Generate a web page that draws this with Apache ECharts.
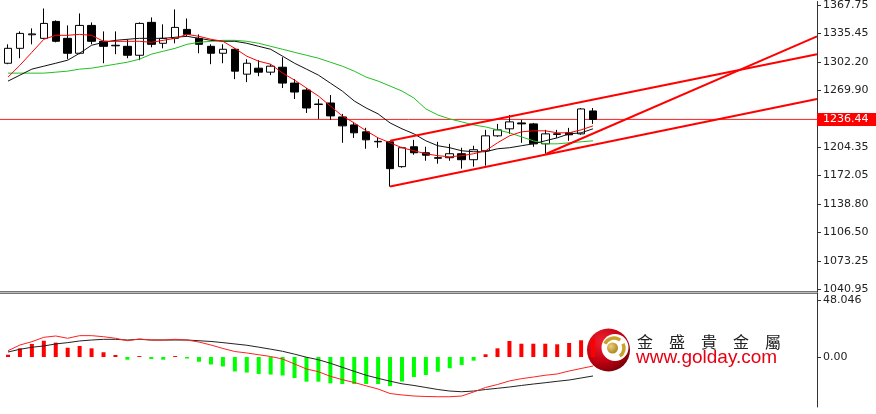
<!DOCTYPE html>
<html>
<head>
<meta charset="utf-8">
<script src="https://cdn.jsdelivr.net/npm/echarts@6.0.0/dist/echarts.min.js"></script>
<style>html,body{margin:0;padding:0;background:#fff;}#main{width:876px;height:414px;}</style>
</head>
<body>
<div id="main"></div>
<script>
// ---- price candles ----
const openP  = [1301.2,1318.4,1334.0,1329.9,1349.4,1329.9,1312.7,1344.8,1326.5,1321.3,1320.7,1310.4,1348.3,1324.2,1329.9,1340.2,1329.9,1320.7,1312.7,1317.3,1288.6,1295.5,1290.9,1296.6,1278.3,1270.3,1253.6,1255.4,1239.3,1230.1,1222.1,1210.6,1210.6,1182.0,1204.9,1198.0,1192.3,1192.3,1196.9,1190.0,1200.3,1217.5,1225.6,1232.4,1231.3,1208.3,1219.8,1221.0,1219.8,1246.2];
const closeP = [1318.4,1335.6,1335.0,1347.1,1326.5,1312.7,1344.8,1326.5,1320.7,1321.9,1310.4,1347.1,1323.0,1329.9,1342.5,1334.5,1323.0,1312.7,1317.3,1292.1,1301.2,1290.9,1297.8,1278.3,1268.0,1249.6,1254.2,1240.5,1229.0,1221.0,1212.9,1211.2,1179.7,1203.8,1198.0,1195.2,1191.7,1196.9,1190.0,1201.5,1217.5,1224.4,1233.6,1231.3,1208.3,1219.8,1219.2,1218.7,1248.5,1236.44];
const lowP   = [1300.1,1307.0,1323.0,1329.5,1325.3,1305.8,1311.6,1323.0,1301.2,1311.6,1307.0,1304.7,1319.6,1318.4,1324.2,1332.2,1312.7,1300.1,1301.2,1282.9,1279.4,1286.3,1287.5,1272.6,1260.0,1243.9,1237.0,1235.9,1209.5,1215.2,1202.6,1203.8,1159.0,1180.8,1195.7,1188.8,1185.4,1188.8,1179.7,1182.0,1183.1,1216.4,1219.8,1209.5,1204.9,1196.9,1215.2,1211.8,1218.7,1231.3];
const highP  = [1323.0,1337.9,1341.4,1364.3,1350.6,1344.8,1358.6,1348.3,1337.9,1337.9,1328.8,1348.3,1354.0,1346.0,1363.2,1352.8,1334.5,1323.0,1323.0,1318.4,1305.8,1304.7,1300.1,1308.1,1282.9,1272.6,1260.0,1264.5,1242.8,1233.6,1226.7,1215.2,1211.0,1204.9,1212.9,1204.9,1210.6,1208.3,1203.8,1206.1,1224.4,1231.3,1241.6,1235.9,1232.4,1224.4,1224.4,1226.7,1249.6,1249.6];

// ---- moving averages ----
const maRed   = [1285.2,1298.9,1313.8,1328.8,1333.4,1333.4,1334.5,1333.4,1326.5,1326.5,1326.5,1326.5,1325.3,1327.6,1329.9,1334.5,1332.2,1328.8,1326.5,1318.4,1309.3,1303.5,1300.1,1289.8,1281.8,1272.6,1263.4,1251.9,1240.5,1232.4,1223.3,1215.2,1209.5,1203.8,1200.3,1196.9,1194.6,1193.4,1194.6,1196.9,1200.3,1209.5,1217.5,1222.1,1223.3,1223.3,1221.0,1221.0,1224.4,1229.0];
const maBlack = [1280.6,1287.5,1294.4,1297.8,1301.2,1304.7,1312.7,1321.9,1325.3,1327.6,1328.8,1329.9,1329.9,1329.9,1331.1,1332.2,1329.9,1327.6,1326.5,1326.5,1324.2,1320.7,1317.3,1309.3,1301.2,1294.4,1287.5,1278.3,1269.1,1257.7,1249.6,1242.8,1232.4,1225.6,1219.8,1211.8,1206.1,1203.8,1200.3,1199.2,1199.2,1202.6,1203.8,1206.1,1208.3,1211.8,1215.2,1219.8,1221.0,1225.6];
const maGreen = [1289.8,1289.8,1289.8,1289.8,1290.9,1292.1,1294.4,1295.5,1297.8,1300.1,1302.4,1305.8,1311.6,1315.0,1318.4,1323.0,1325.3,1326.5,1327.6,1327.6,1326.5,1324.2,1320.7,1317.3,1313.8,1310.4,1307.0,1302.4,1297.8,1292.1,1285.2,1280.6,1274.9,1269.1,1261.1,1248.5,1241.6,1237.0,1233.6,1230.1,1227.8,1224.4,1221.0,1216.4,1211.8,1208.3,1208.3,1209.5,1210.6,1211.8];

// ---- trend lines: [barIndex, price] endpoints ----
const trendUpper = [[32, 1211.8], [67.76, 1311.6]];
const trendLower = [[32, 1159.0], [67.76, 1260.0]];
const trendSteep = [[45.1, 1196.9], [67.76, 1332.2]];
const curPrice = 1236.44;

// ---- MACD panel ----
const macdHist  = [1.9,7.3,11.0,13.7,12.1,7.8,9.3,7.3,4.0,1.7,-2.3,0.8,-1.7,-2.3,0.8,-1.3,-4.0,-6.3,-8.0,-12.2,-13.1,-14.3,-14.8,-15.6,-17.7,-20.8,-20.8,-22.2,-22.8,-22.8,-22.8,-22.8,-24.5,-20.7,-16.9,-15.2,-12.4,-9.5,-6.7,-3.1,2.3,7.3,13.5,11.2,11.2,11.2,10.7,11.8,14.1,15.2];
const macdRed   = [5.3,10.1,12.9,16.6,17.7,15.8,18.0,18.0,17.1,15.8,13.7,15.2,14.3,14.3,14.9,14.3,12.6,10.1,7.2,4.6,3.4,1.9,0.4,-1.7,-5.9,-10.1,-12.4,-16.3,-19.1,-21.5,-24.3,-27.0,-30.8,-32.0,-32.9,-33.3,-33.5,-33.5,-32.9,-29.5,-25.7,-23.2,-20.2,-18.3,-16.9,-15.4,-14.3,-11.8,-9.7,-7.6];
const macdBlack = [4.2,6.5,8.2,9.3,11.0,12.1,13.5,14.3,14.9,14.9,14.3,14.9,14.3,14.3,14.3,14.3,13.7,13.1,12.1,11.0,9.9,8.3,6.6,4.8,2.4,-0.2,-2.3,-5.3,-8.7,-12.1,-15.4,-18.0,-20.4,-22.6,-24.0,-25.7,-27.4,-28.7,-29.3,-28.7,-27.4,-26.4,-25.3,-24.0,-22.8,-21.7,-20.5,-19.4,-17.7,-16.0];

// ---- tick labels ----
const priceTicks = [1367.75,1335.45,1302.20,1269.90,1236.44,1204.35,1172.05,1138.80,1106.50,1073.25,1040.95];
const priceLabels = [1367.75,1335.45,1302.20,1269.90,1204.35,1172.05,1138.80,1106.50,1073.25,1040.95];
const macdTicks = [48.046, 0];

const chart = echarts.init(document.getElementById('main'));
const candleData = openP.map((o, i) => [i, o, closeP[i], lowP[i], highP[i]]);
const pts = arr => arr.map((v, i) => [i, v]);
const labelFont = {fontFamily: 'DejaVu Sans', fontSize: 11, color: '#222'};

const option = {
  animation: false,
  backgroundColor: '#ffffff',
  grid: [
    {left: 0, right: 59, top: 0, height: 292},
    {left: 0, right: 59, top: 293, height: 114}
  ],
  xAxis: [
    {type: 'value', gridIndex: 0, min: -0.67, max: 67.76, show: false},
    {type: 'value', gridIndex: 1, min: -0.67, max: 67.76, show: false}
  ],
  yAxis: [
    {
      type: 'value', gridIndex: 0, position: 'right', min: 1037.51, max: 1372.34,
      splitLine: {show: false},
      axisLine: {show: true, onZero: false, lineStyle: {color: '#333', width: 1}},
      axisTick: {show: true, inside: false, length: 4, customValues: priceTicks, lineStyle: {color: '#333'}},
      axisLabel: Object.assign({customValues: priceLabels, margin: 6, formatter: v => v.toFixed(2)}, labelFont)
    },
    {
      type: 'value', gridIndex: 1, position: 'right', min: -42.16, max: 53.95,
      splitLine: {show: false},
      axisLine: {show: true, onZero: false, lineStyle: {color: '#333', width: 1}},
      axisTick: {show: true, inside: false, length: 4, customValues: macdTicks, lineStyle: {color: '#333'}},
      axisLabel: Object.assign({customValues: macdTicks, margin: 6, formatter: v => v === 0 ? v.toFixed(2) : v.toFixed(3)}, labelFont)
    }
  ],
  series: [
    {
      type: 'line', xAxisIndex: 0, yAxisIndex: 0, data: [[-0.67, curPrice], [67.76, curPrice]], symbol: 'none', z: 1,
      lineStyle: {color: '#ff2020', width: 1},
      endLabel: {show: true, distance: 0, formatter: curPrice.toFixed(2), backgroundColor: '#ff0000', color: '#ffffff',
        padding: [1, 9, 1, 6], fontFamily: 'DejaVu Sans', fontSize: 11}
    },
    {
      type: 'candlestick', xAxisIndex: 0, yAxisIndex: 0, barWidth: 8, z: 2,
      data: candleData,
      itemStyle: {color: '#ffffff', color0: '#000000', borderColor: '#000000', borderColor0: '#000000', borderWidth: 1}
    },
    {type: 'line', xAxisIndex: 0, yAxisIndex: 0, data: pts(maGreen), symbol: 'none', z: 3, lineStyle: {color: '#22c022', width: 1}},
    {type: 'line', xAxisIndex: 0, yAxisIndex: 0, data: pts(maBlack), symbol: 'none', z: 3, lineStyle: {color: '#111111', width: 1}},
    {type: 'line', xAxisIndex: 0, yAxisIndex: 0, data: pts(maRed), symbol: 'none', z: 3, lineStyle: {color: '#ff0000', width: 1}},
    {type: 'line', xAxisIndex: 0, yAxisIndex: 0, data: trendUpper, symbol: 'none', z: 4, lineStyle: {color: '#ff0000', width: 2}},
    {type: 'line', xAxisIndex: 0, yAxisIndex: 0, data: trendLower, symbol: 'none', z: 4, lineStyle: {color: '#ff0000', width: 2}},
    {type: 'line', xAxisIndex: 0, yAxisIndex: 0, data: trendSteep, symbol: 'none', z: 4, lineStyle: {color: '#ff0000', width: 2}},
    {
      type: 'bar', xAxisIndex: 1, yAxisIndex: 1, barWidth: 4, data: pts(macdHist),
      itemStyle: {color: p => p.value[1] >= 0 ? '#ff0000' : '#00ff00'}
    },
    {type: 'line', xAxisIndex: 1, yAxisIndex: 1, data: pts(macdBlack), symbol: 'none', lineStyle: {color: '#222222', width: 1}},
    {type: 'line', xAxisIndex: 1, yAxisIndex: 1, data: pts(macdRed), symbol: 'none', lineStyle: {color: '#ff2020', width: 1}}
  ],
  graphic: [
    {type: 'rect', shape: {x: 0, y: 291, width: 817, height: 1}, style: {fill: '#777'}, z: 50, silent: true},
    {type: 'rect', shape: {x: 0, y: 292, width: 817, height: 1}, style: {fill: '#bbb'}, z: 50, silent: true},
    {type: 'rect', shape: {x: 0, y: 293, width: 817, height: 1}, style: {fill: '#777'}, z: 50, silent: true},
    {type: 'group', z: 100, silent: true, children: [
      {type: 'circle', shape: {cx: 608.5, cy: 350, r: 21.5},
        style: {fill: new echarts.graphic.RadialGradient(0.35, 0.3, 0.8, [{offset: 0, color: '#f02030'}, {offset: 0.6, color: '#c00010'}, {offset: 1, color: '#6a0008'}])}},
      {type: 'circle', shape: {cx: 615, cy: 347.5, r: 13.5}, style: {fill: '#ffffff'}},
      {type: 'arc', shape: {cx: 614, cy: 348, r: 10, startAngle: -2.7, endAngle: -0.9}, style: {stroke: '#c9a22a', lineWidth: 3.5, fill: 'none'}},
      {type: 'arc', shape: {cx: 614, cy: 348, r: 10, startAngle: -0.45, endAngle: 0.95}, style: {stroke: '#c9a22a', lineWidth: 3.5, fill: 'none'}},
      {type: 'circle', shape: {cx: 612.5, cy: 348, r: 5.5},
        style: {fill: new echarts.graphic.RadialGradient(0.35, 0.35, 0.8, [{offset: 0, color: '#f0d070'}, {offset: 1, color: '#9a7a18'}])}},
      {type: 'text', x: 637, y: 342, style: {text: '金　盛　貴　金　屬', font: '16px "Noto Sans CJK TC"', fill: '#222', verticalAlign: 'middle'}},
      {type: 'text', x: 636, y: 358, style: {text: 'www.golday.com', font: '19px "Liberation Sans"', fill: '#e60012', verticalAlign: 'middle'}}
    ]}
  ]
};
chart.setOption(option);
</script>
</body>
</html>
